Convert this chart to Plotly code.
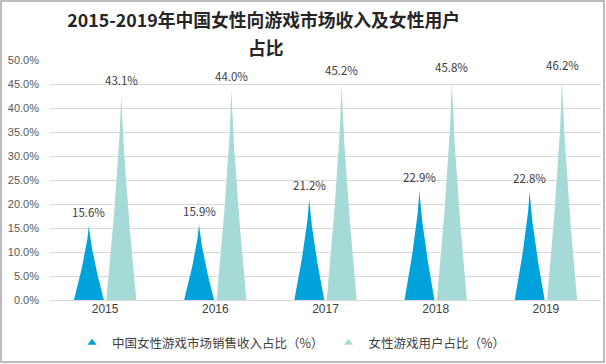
import plotly.graph_objects as go

years = ["2015", "2016", "2017", "2018", "2019"]
revenue_share = [15.6, 15.9, 21.2, 22.9, 22.8]
user_share = [43.1, 44.0, 45.2, 45.8, 46.2]
series_names = ["中国女性游戏市场销售收入占比（%）", "女性游戏用户占比（%）"]
yticks = [0, 5, 10, 15, 20, 25, 30, 35, 40, 45, 50]
title_line1 = "2015-2019年中国女性向游戏市场收入及女性用户"
title_line2 = "占比"

BLUE = "#00a2db"
TEAL = "#a5dad6"
FONT = "Noto Sans CJK SC, Noto Sans, sans-serif"

HALF_W = 0.136
OFFSET = 0.147
POW = 1.35
N = 40


def cone(center, value):
    xs, ys = [], []
    for k in range(N + 1):
        t = k / N
        xs.append(center - HALF_W * (1 - t) ** POW)
        ys.append(value * t)
    for k in range(N, -1, -1):
        t = k / N
        xs.append(center + HALF_W * (1 - t) ** POW)
        ys.append(value * t)
    return xs, ys


fig = go.Figure()
annotations = []

for vals, col, sign in [(revenue_share, BLUE, -1), (user_share, TEAL, 1)]:
    for i, v in enumerate(vals):
        c = i + sign * OFFSET
        xs, ys = cone(c, v)
        fig.add_trace(go.Scatter(x=xs, y=ys, mode="lines", fill="toself",
                                 fillcolor=col, line=dict(width=0, color=col),
                                 showlegend=False, hoverinfo="skip"))
        annotations.append(dict(x=c, y=v, xref="x", yref="y", text=f"{v:.1f}%",
                                showarrow=False, yanchor="middle", yshift=13,
                                font=dict(size=11.5, color="#404040", family=FONT)))

for name, col in zip(series_names, [BLUE, TEAL]):
    fig.add_trace(go.Scatter(x=[None], y=[None], mode="markers", name=name,
                             marker=dict(symbol="triangle-up", size=8, color=col)))

# invisible trace for category labels axis
fig.add_trace(go.Scatter(x=years, y=[0] * len(years), xaxis="x2", mode="markers",
                         marker=dict(opacity=0), showlegend=False, hoverinfo="skip"))

annotations.append(dict(text=f"<b>{title_line2}</b>", xref="paper", yref="paper",
                        x=0.392, y=1.054, xanchor="center", yanchor="middle",
                        showarrow=False, font=dict(size=17.8, color="#262626", family=FONT)))

fig.update_layout(
    width=606, height=364,
    margin=dict(l=50, r=5, t=60, b=64, autoexpand=False),
    paper_bgcolor="white", plot_bgcolor="white",
    font=dict(family=FONT, color="#404040"),
    title=dict(text=f"<b>{title_line1}</b>",
               x=0.435, xanchor="center", xref="container",
               y=0.943, yanchor="middle", yref="container",
               font=dict(size=17.8, color="#262626", family=FONT)),
    annotations=annotations,
    xaxis=dict(range=[-0.5, 4.5], showticklabels=False, showgrid=False,
               zeroline=False, showline=False, ticks="", automargin=False),
    xaxis2=dict(type="category", categoryorder="array", categoryarray=years,
                overlaying="x", anchor="y", domain=[0.0025, 0.976],
                range=[-0.5, 4.5], showgrid=False, zeroline=False, showline=False,
                ticks="", automargin=False,
                tickfont=dict(size=12, color="#404040", family="Liberation Sans, Arial"),
                side="bottom"),
    yaxis=dict(range=[0, 50], tickvals=yticks,
               ticktext=[f"{v:.1f}%" for v in yticks],
               showgrid=True, gridcolor="#d9d9d9", gridwidth=1,
               zeroline=True, zerolinecolor="#d9d9d9", zerolinewidth=1,
               showline=False, ticks="", ticklabelstandoff=10, automargin=False,
               tickfont=dict(size=11, color="#595959", family="Liberation Sans, Arial")),
    legend=dict(orientation="h", x=0.04, xanchor="left", y=-0.18, yanchor="middle",
                font=dict(size=12.5, color="#404040", family=FONT),
                itemwidth=30, tracegroupgap=0),
    shapes=[dict(type="rect", xref="paper", yref="paper",
                 x0=-0.0889, x1=1.0054, y0=-0.2583, y1=1.2458,
                 line=dict(color="#a6a6a6", width=1.5), fillcolor="rgba(0,0,0,0)",
                 layer="below")],
    showlegend=True,
)

fig.write_html("out.html", config={"displayModeBar": False},
               post_script="document.body.style.margin='0';")
